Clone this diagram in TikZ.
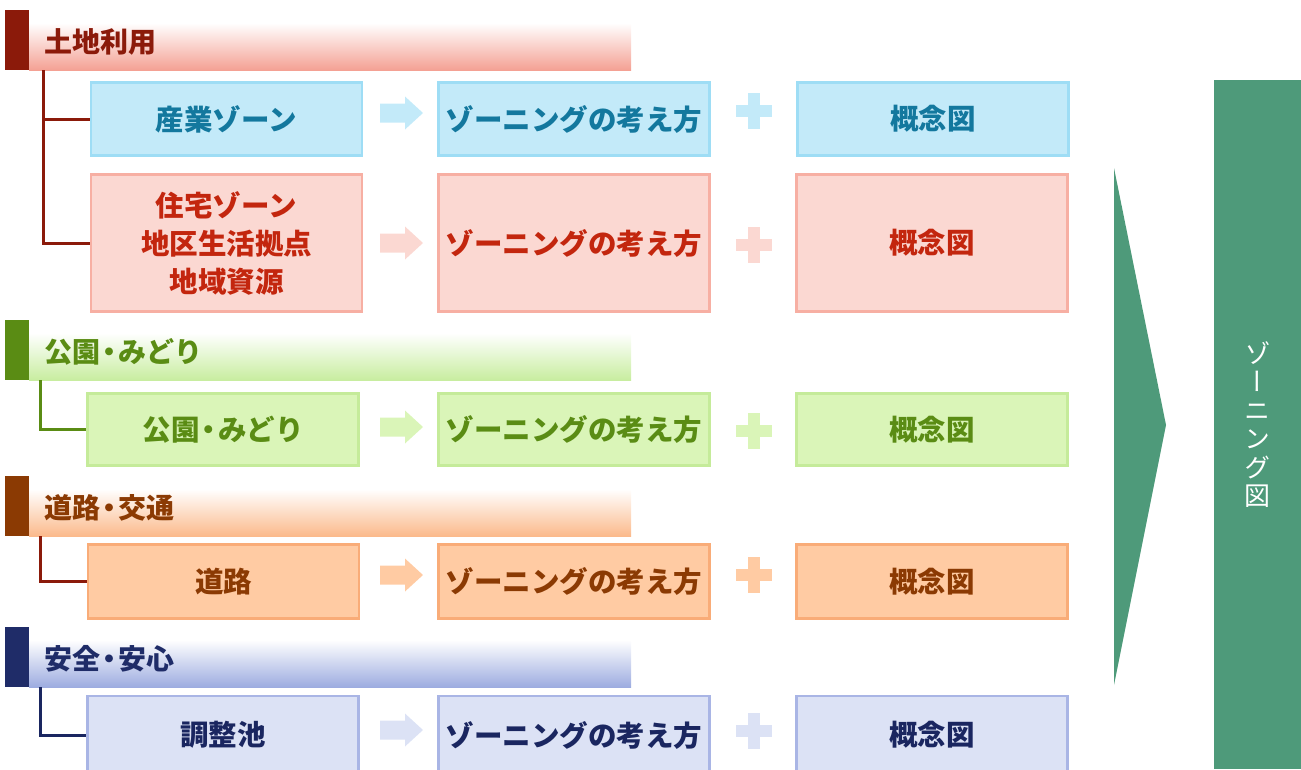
\documentclass[tikz,border=0pt]{standalone}
\usepackage{fontspec}
\newfontfamily\jp{Noto Sans CJK JP}
\newfontfamily\vjp[RawFeature=+vert]{Noto Sans CJK JP}
\definecolor{hAdark}{HTML}{8B1A0A}\definecolor{hAgrad}{HTML}{F4A194}
\definecolor{bAfill}{HTML}{C3EAF9}\definecolor{bAline}{HTML}{9EDDF5}\definecolor{bAtext}{HTML}{13789E}
\definecolor{pAfill}{HTML}{FBD8D2}\definecolor{pAline}{HTML}{F7AFA3}\definecolor{pAtext}{HTML}{C3260E}
\definecolor{gdark}{HTML}{5A8C14}\definecolor{ggrad}{HTML}{C8EDA0}\definecolor{gfill}{HTML}{DAF5B8}\definecolor{gline}{HTML}{C5EB9A}
\definecolor{odark}{HTML}{8B3A03}\definecolor{ograd}{HTML}{FBBA8C}\definecolor{ofill}{HTML}{FFCBA3}\definecolor{oline}{HTML}{F9AC78}
\definecolor{ndark}{HTML}{1F2C68}\definecolor{ngrad}{HTML}{9DACE0}\definecolor{nfill}{HTML}{DCE2F5}\definecolor{nline}{HTML}{A9B5E5}\definecolor{ntext}{HTML}{1A2660}
\definecolor{zg}{HTML}{4E9A7A}
\newcommand{\nd}{\hspace{-5pt}・\hspace{-5pt}}
\newcommand{\barrow}[2]{\fill[#1] (380,{#2-9.5}) -- (405,{#2-9.5}) -- (405,{#2-16.5}) -- (423,#2) -- (405,{#2+16.5}) -- (405,{#2+9.5}) -- (380,{#2+9.5}) -- cycle;}
\newcommand{\bplus}[2]{\fill[#1] (748,{#2-18}) rectangle (760,{#2+18}); \fill[#1] (736,{#2-6}) rectangle (772,{#2+6});}
\newcommand{\header}[5]{%
  \fill[#2] (5,#4) rectangle (29,{#4+60});
  \shade[top color=white, bottom color=#3] (29,{#4+13}) rectangle (631,{#4+60});
  \node[htext, text=#2] (#1) at (44,{#4+32}) {#5};}
\tikzset{
  htext/.style={anchor=west, inner sep=0, font=\jp\bfseries\fontsize{28}{32}\selectfont},
  zbox/.style={draw, line width=2.6pt, inner sep=0, align=center, minimum width=271,
    font=\jp\bfseries\fontsize{28.5}{38}\selectfont},
  tree/.style={line width=3pt},
}
\begin{document}
\begin{tikzpicture}[x=1pt, y=-1pt]
\useasboundingbox (0,0) rectangle (1301,769);
% headers
\header{h1}{hAdark}{hAgrad}{10}{土地利用}
\header{h2}{gdark}{ggrad}{320}{公園\nd みどり}
\header{h3}{odark}{ograd}{476}{道路\nd 交通}
\header{h4}{ndark}{ngrad}{627}{安全\nd 安心}
% row 1
\node[zbox, fill=bAfill, draw=bAline, text=bAtext, minimum height=73] (l1) at (226.5,119) {産業ゾーン};
\node[zbox, fill=bAfill, draw=bAline, text=bAtext, minimum height=73] (m1) at (574,119) {ゾーニングの考え方};
\node[zbox, fill=bAfill, draw=bAline, text=bAtext, minimum height=73] (r1) at (933,119) {概念図};
\barrow{bAfill}{113}\bplus{bAfill}{111}
% row 2
\node[zbox, fill=pAfill, draw=pAline, text=pAtext, minimum height=137] (l2) at (226.5,243) {住宅ゾーン\\地区生活拠点\\地域資源};
\node[zbox, fill=pAfill, draw=pAline, text=pAtext, minimum height=137] (m2) at (574,243) {ゾーニングの考え方};
\node[zbox, fill=pAfill, draw=pAline, text=pAtext, minimum height=137] (r2) at (932,243) {概念図};
\barrow{pAfill}{243}\bplus{pAfill}{245}
% row 3
\node[zbox, fill=gfill, draw=gline, text=gdark, minimum height=72] (l3) at (223,429.5) {公園\nd みどり};
\node[zbox, fill=gfill, draw=gline, text=gdark, minimum height=72] (m3) at (574,429.5) {ゾーニングの考え方};
\node[zbox, fill=gfill, draw=gline, text=gdark, minimum height=72] (r3) at (932,429.5) {概念図};
\barrow{gfill}{427}\bplus{gfill}{431}
% row 4
\node[zbox, fill=ofill, draw=oline, text=odark, minimum height=74] (l4) at (223.5,581.5) {道路};
\node[zbox, fill=ofill, draw=oline, text=odark, minimum height=74] (m4) at (574,581.5) {ゾーニングの考え方};
\node[zbox, fill=ofill, draw=oline, text=odark, minimum height=74] (r4) at (932,581.5) {概念図};
\barrow{ofill}{575}\bplus{ofill}{575}
% row 5
\node[zbox, fill=nfill, draw=nline, text=ntext, minimum height=78] (l5) at (223,735) {調整池};
\node[zbox, fill=nfill, draw=nline, text=ntext, minimum height=78] (m5) at (574,735) {ゾーニングの考え方};
\node[zbox, fill=nfill, draw=nline, text=ntext, minimum height=78] (r5) at (932,735) {概念図};
\barrow{nfill}{730}\bplus{nfill}{731}
% tree connectors
\coordinate (t1) at (43,70);
\coordinate (t2) at (40,380);
\coordinate (t3) at (40,536);
\coordinate (t4) at (40,687);
\draw[tree, hAdark] (t1) |- (l1.west);
\draw[tree, hAdark] (t1) |- (l2.west);
\draw[tree, gdark] (t2) |- (l3.west);
\draw[tree, hAdark] (t3) |- (l4.west);
\draw[tree, ntext] (t4) |- (l5.west);
% right side
\fill[zg] (1114,168) -- (1166,425) -- (1114,685) -- cycle;
\node[fill=zg, anchor=north west, inner sep=0, minimum width=87, minimum height=689] (zz) at (1214,80) {};
\node[text=white, align=center, inner sep=0, font=\vjp\fontsize{26}{28.5}\selectfont] (zt) at (zz.center) {ゾ\\ー\\ニ\\ン\\グ\\図};
\end{tikzpicture}
\end{document}
